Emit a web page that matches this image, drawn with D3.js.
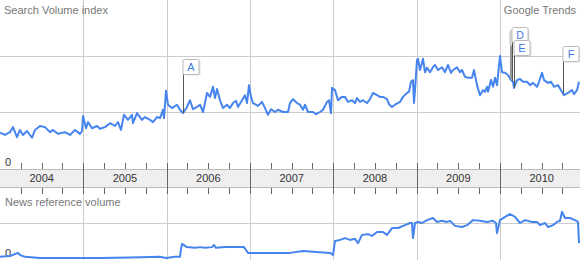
<!DOCTYPE html>
<html><head><meta charset="utf-8">
<script src="https://cdn.jsdelivr.net/npm/d3@7"></script>
<style>
html,body{margin:0;padding:0;background:#fff;}
svg{display:block;font-family:Arial,"Liberation Sans",Helvetica,sans-serif;}
</style></head>
<body>
<svg id="chart" width="580" height="260"></svg>
<script>
// ---------- DATA ----------
const years = [2004, 2005, 2006, 2007, 2008, 2009, 2010];
const yearLabels = ["2004", "2005", "2006", "2007", "2008", "2009", "2010"];

const searchDates = [2004.000,2004.060,2004.120,2004.156,2004.204,2004.240,2004.276,2004.324,2004.384,2004.420,2004.480,2004.540,2004.600,2004.636,2004.696,2004.780,2004.840,2004.900,2004.960,2004.984,2004.996,
2005.032,2005.056,2005.104,2005.164,2005.200,2005.260,2005.320,2005.380,2005.416,2005.452,2005.488,2005.536,2005.584,2005.596,2005.644,2005.704,2005.740,2005.800,2005.836,2005.884,2005.920,2005.956,2005.968,2005.992,
2006.016,2006.064,2006.124,2006.160,2006.196,2006.244,2006.280,2006.316,2006.364,2006.400,2006.436,2006.484,2006.520,2006.556,2006.580,2006.604,2006.640,2006.676,2006.724,2006.760,2006.796,2006.832,2006.856,2006.904,2006.940,2006.964,2006.988,
2007.012,2007.036,2007.096,2007.144,2007.180,2007.216,2007.252,2007.300,2007.336,2007.396,2007.456,2007.480,2007.516,2007.564,2007.600,2007.636,2007.660,2007.696,2007.756,2007.792,2007.840,2007.876,2007.924,2007.948,2007.972,2007.984,
2008.020,2008.056,2008.104,2008.140,2008.176,2008.224,2008.260,2008.284,2008.320,2008.356,2008.404,2008.440,2008.476,2008.524,2008.560,2008.596,2008.644,2008.668,2008.704,2008.740,2008.800,2008.836,2008.884,2008.908,2008.932,2008.956,2008.968,2008.980,
2009.004,2009.016,2009.040,2009.076,2009.100,2009.124,2009.160,2009.196,2009.220,2009.256,2009.304,2009.340,2009.376,2009.412,2009.436,2009.484,2009.520,2009.544,2009.580,2009.616,2009.664,2009.688,2009.724,2009.760,2009.796,2009.820,2009.844,2009.856,2009.892,2009.916,2009.940,2009.964,
2010.000,2010.024,2010.060,2010.096,2010.132,2010.156,2010.168,2010.204,2010.240,2010.276,2010.324,2010.360,2010.396,2010.444,2010.468,2010.504,2010.528,2010.576,2010.612,2010.648,2010.696,2010.732,2010.768,2010.816,2010.864,2010.888,2010.924,2010.948];
const searchValues = [0.63,0.59,0.64,0.73,0.55,0.68,0.59,0.66,0.54,0.68,0.75,0.73,0.64,0.68,0.61,0.64,0.59,0.68,0.61,0.66,0.93,
0.71,0.82,0.71,0.75,0.70,0.73,0.80,0.75,0.82,0.68,0.95,0.86,0.95,0.80,0.98,0.86,0.91,0.86,0.82,0.91,0.89,1.04,0.89,1.38,
1.13,1.07,1.13,1.04,0.98,1.09,1.21,1.05,1.09,1.13,1.00,1.34,1.27,1.45,1.25,1.41,1.21,1.07,1.13,1.07,1.16,1.20,1.09,1.21,1.30,1.16,1.48,
1.27,1.16,1.11,1.18,1.07,0.95,1.05,1.00,1.04,1.00,1.00,1.16,1.23,1.16,1.13,1.04,1.13,1.00,1.00,0.96,1.00,1.04,1.18,1.21,0.98,1.43,
1.39,1.21,1.27,1.27,1.18,1.21,1.16,1.25,1.18,1.21,1.16,1.23,1.34,1.30,1.27,1.27,1.23,1.14,1.09,1.13,1.18,1.27,1.34,1.36,1.54,1.57,1.16,1.39,
1.93,1.95,1.75,1.95,1.71,1.79,1.71,1.80,1.84,1.75,1.80,1.71,1.84,1.70,1.75,1.80,1.71,1.75,1.63,1.61,1.61,1.75,1.48,1.30,1.39,1.36,1.45,1.36,1.57,1.45,1.61,1.48,
2.00,1.71,1.70,1.66,1.57,1.54,1.43,1.57,1.59,1.54,1.54,1.48,1.52,1.45,1.54,1.70,1.57,1.52,1.54,1.45,1.48,1.39,1.30,1.34,1.39,1.32,1.39,1.54];

const newsDates = [2004.000,2004.120,2004.180,2004.216,2004.240,2004.300,2004.480,2004.600,2004.960,2005.200,2005.560,2005.920,2005.992,2006.100,2006.160,2006.172,2006.184,2006.244,2006.340,2006.400,2006.460,2006.544,2006.568,2006.592,2006.700,2006.820,2006.928,2006.952,2006.976,
2007.120,2007.360,2007.480,2007.636,2007.840,2007.960,2007.996,2008.020,2008.080,2008.140,2008.200,2008.260,2008.296,2008.344,2008.416,2008.464,2008.524,2008.596,2008.644,2008.704,2008.776,2008.860,2008.920,2008.944,2008.956,2008.980,
2009.016,2009.064,2009.124,2009.196,2009.244,2009.304,2009.364,2009.400,2009.460,2009.544,2009.604,2009.676,2009.760,2009.844,2009.916,2009.952,2009.964,
2010.000,2010.060,2010.120,2010.180,2010.240,2010.300,2010.384,2010.444,2010.480,2010.540,2010.576,2010.636,2010.684,2010.720,2010.744,2010.780,2010.840,2010.900,2010.936,2010.948];
const newsValues = [0.06,0.08,0.14,0.17,0.11,0.06,0.03,0.03,0.03,0.03,0.04,0.06,0.03,0.06,0.06,0.28,0.42,0.33,0.31,0.33,0.31,0.33,0.39,0.31,0.33,0.33,0.33,0.25,0.17,
0.17,0.17,0.17,0.22,0.19,0.17,0.11,0.50,0.53,0.58,0.53,0.56,0.44,0.67,0.69,0.64,0.75,0.75,0.67,0.86,0.86,0.94,1.00,1.00,0.58,1.00,
1.03,1.00,1.08,1.14,1.03,1.06,1.03,1.06,0.92,0.89,0.94,1.08,1.06,1.03,1.06,1.00,0.72,
1.08,1.17,1.25,1.17,1.00,1.08,1.03,1.03,0.94,1.00,0.89,0.94,1.03,1.06,1.31,1.14,1.14,1.08,1.03,0.44];

const flagLetters = ["A", "B", "C", "D", "E", "F"];
const flagDates = [2006.196, 2010.120, 2010.132, 2010.144, 2010.168, 2010.756];

// ---------- LAYOUT ----------
const W = 580, H = 260;
const svg = d3.select("#chart");
const x = d3.scaleLinear().domain([2004, 2011]).range([0, 583.33]);
const yTop = d3.scaleLinear().domain([0, 3]).range([168, 0]);
const yBot = d3.scaleLinear().domain([0, 1]).range([259, 223]);
const bandTop = 169, bandBot = 187;
const gridCol = "#cccccc", lineCol = "#4684ee", textCol = "#777";

const search = searchDates.map((d, i) => ({d, v: searchValues[i]}));
const news = newsDates.map((d, i) => ({d, v: newsValues[i]}));

// horizontal gridlines
svg.append("g").selectAll("line").data([1, 2]).join("line")
  .attr("x1", 0).attr("x2", W)
  .attr("y1", d => yTop(d) + 0.5).attr("y2", d => yTop(d) + 0.5)
  .attr("stroke", gridCol);
svg.append("line").attr("x1", 0).attr("x2", W)
  .attr("y1", yBot(1) + 0.5).attr("y2", yBot(1) + 0.5).attr("stroke", gridCol);

// vertical year gridlines
const yearLines = years.slice(1);
svg.append("g").selectAll("line").data(yearLines).join("line")
  .attr("x1", d => Math.round(x(d)) + 0.5).attr("x2", d => Math.round(x(d)) + 0.5)
  .attr("y1", 0).attr("y2", H).attr("stroke", gridCol);

// axis band
svg.append("rect").attr("x", 0).attr("y", bandTop).attr("width", W).attr("height", bandBot - bandTop)
  .attr("fill", "#efefef");
[bandTop, bandBot].forEach(yy => svg.append("line").attr("x1", 0).attr("x2", W)
  .attr("y1", yy + 0.5).attr("y2", yy + 0.5).attr("stroke", "#bbbbbb"));

// quarter ticks
const quarters = [];
years.forEach(yr => [0.25, 0.5, 0.75].forEach(q => quarters.push(yr + q)));
const tickCol = "#666";
svg.append("g").selectAll("line").data(quarters).join("line")
  .attr("x1", d => Math.round(x(d)) + 0.5).attr("x2", d => Math.round(x(d)) + 0.5)
  .attr("y1", bandTop - 6).attr("y2", bandTop).attr("stroke", tickCol);
svg.append("g").selectAll("line").data(quarters).join("line")
  .attr("x1", d => Math.round(x(d)) + 0.5).attr("x2", d => Math.round(x(d)) + 0.5)
  .attr("y1", bandBot + 1).attr("y2", bandBot + 7).attr("stroke", tickCol);
// year dividers (dark within tick zone)
svg.append("g").selectAll("line").data(yearLines).join("line")
  .attr("x1", d => Math.round(x(d)) + 0.5).attr("x2", d => Math.round(x(d)) + 0.5)
  .attr("y1", bandTop - 6).attr("y2", bandBot + 7).attr("stroke", tickCol);

// year labels
svg.append("g").selectAll("text").data(years).join("text")
  .attr("x", d => x(d + 0.5)).attr("y", 182)
  .attr("text-anchor", "middle").attr("font-size", 11).attr("fill", "#333")
  .text((d, i) => yearLabels[i]);

// texts
svg.append("text").attr("x", 4).attr("y", 14).attr("font-size", 11).attr("fill", textCol).text("Search Volume index");
svg.append("text").attr("x", 576).attr("y", 14).attr("font-size", 11).attr("fill", textCol).attr("text-anchor", "end").text("Google Trends");
svg.append("text").attr("x", 5).attr("y", 206).attr("font-size", 11).attr("fill", textCol).text("News reference volume");
svg.append("text").attr("x", 5).attr("y", 166).attr("font-size", 11).attr("fill", "#333").text("0");
svg.append("text").attr("x", 5).attr("y", 257).attr("font-size", 11).attr("fill", "#333").text("0");

// lines
svg.append("path").datum(search)
  .attr("d", d3.line().x(d => x(d.d)).y(d => yTop(d.v)))
  .attr("fill", "none").attr("stroke", lineCol).attr("stroke-width", 2).attr("stroke-linejoin", "round");
svg.append("path").datum(news)
  .attr("d", d3.line().x(d => x(d.d)).y(d => yBot(d.v)))
  .attr("fill", "none").attr("stroke", lineCol).attr("stroke-width", 2).attr("stroke-linejoin", "round");

// flags
const bis = d3.bisector(d => d.d).left;
function valAt(t) {
  const i = Math.max(1, Math.min(search.length - 1, bis(search, t)));
  const a = search[i - 1], b = search[i];
  return a.v + (b.v - a.v) * (t - a.d) / (b.d - a.d);
}
const flagTops = {A: 59, B: 30, C: 31, D: 27, E: 40, F: 46};
const flagG = svg.append("g");
flagLetters.forEach((L, i) => {
  const px = Math.round(x(flagDates[i])) + 0.5;
  const top = flagTops[L];
  const ghost = (L === "B" || L === "C");
  const bw = 16, bh = 15;
  flagG.append("line").attr("x1", px).attr("x2", px)
    .attr("y1", top + bh).attr("y2", yTop(valAt(flagDates[i])))
    .attr("stroke", ghost ? "#999" : "#555").attr("stroke-width", 1);
  flagG.append("rect").attr("x", px + 1).attr("y", top + 1.5).attr("width", bw).attr("height", bh)
    .attr("fill", "#000").attr("opacity", 0.12).attr("rx", 1.5);
  flagG.append("rect").attr("x", px - 0.5).attr("y", top + 0.5).attr("width", bw).attr("height", bh)
    .attr("fill", "#fff").attr("stroke", "#bbb").attr("rx", 1.5);
  if (!ghost) {
    flagG.append("text").attr("x", px + bw / 2 - 0.5).attr("y", top + 12)
      .attr("text-anchor", "middle").attr("font-size", L === "D" ? 10.5 : 11).attr("fill", "#3d78e0").text(L);
  }
});
</script>
</body></html>
